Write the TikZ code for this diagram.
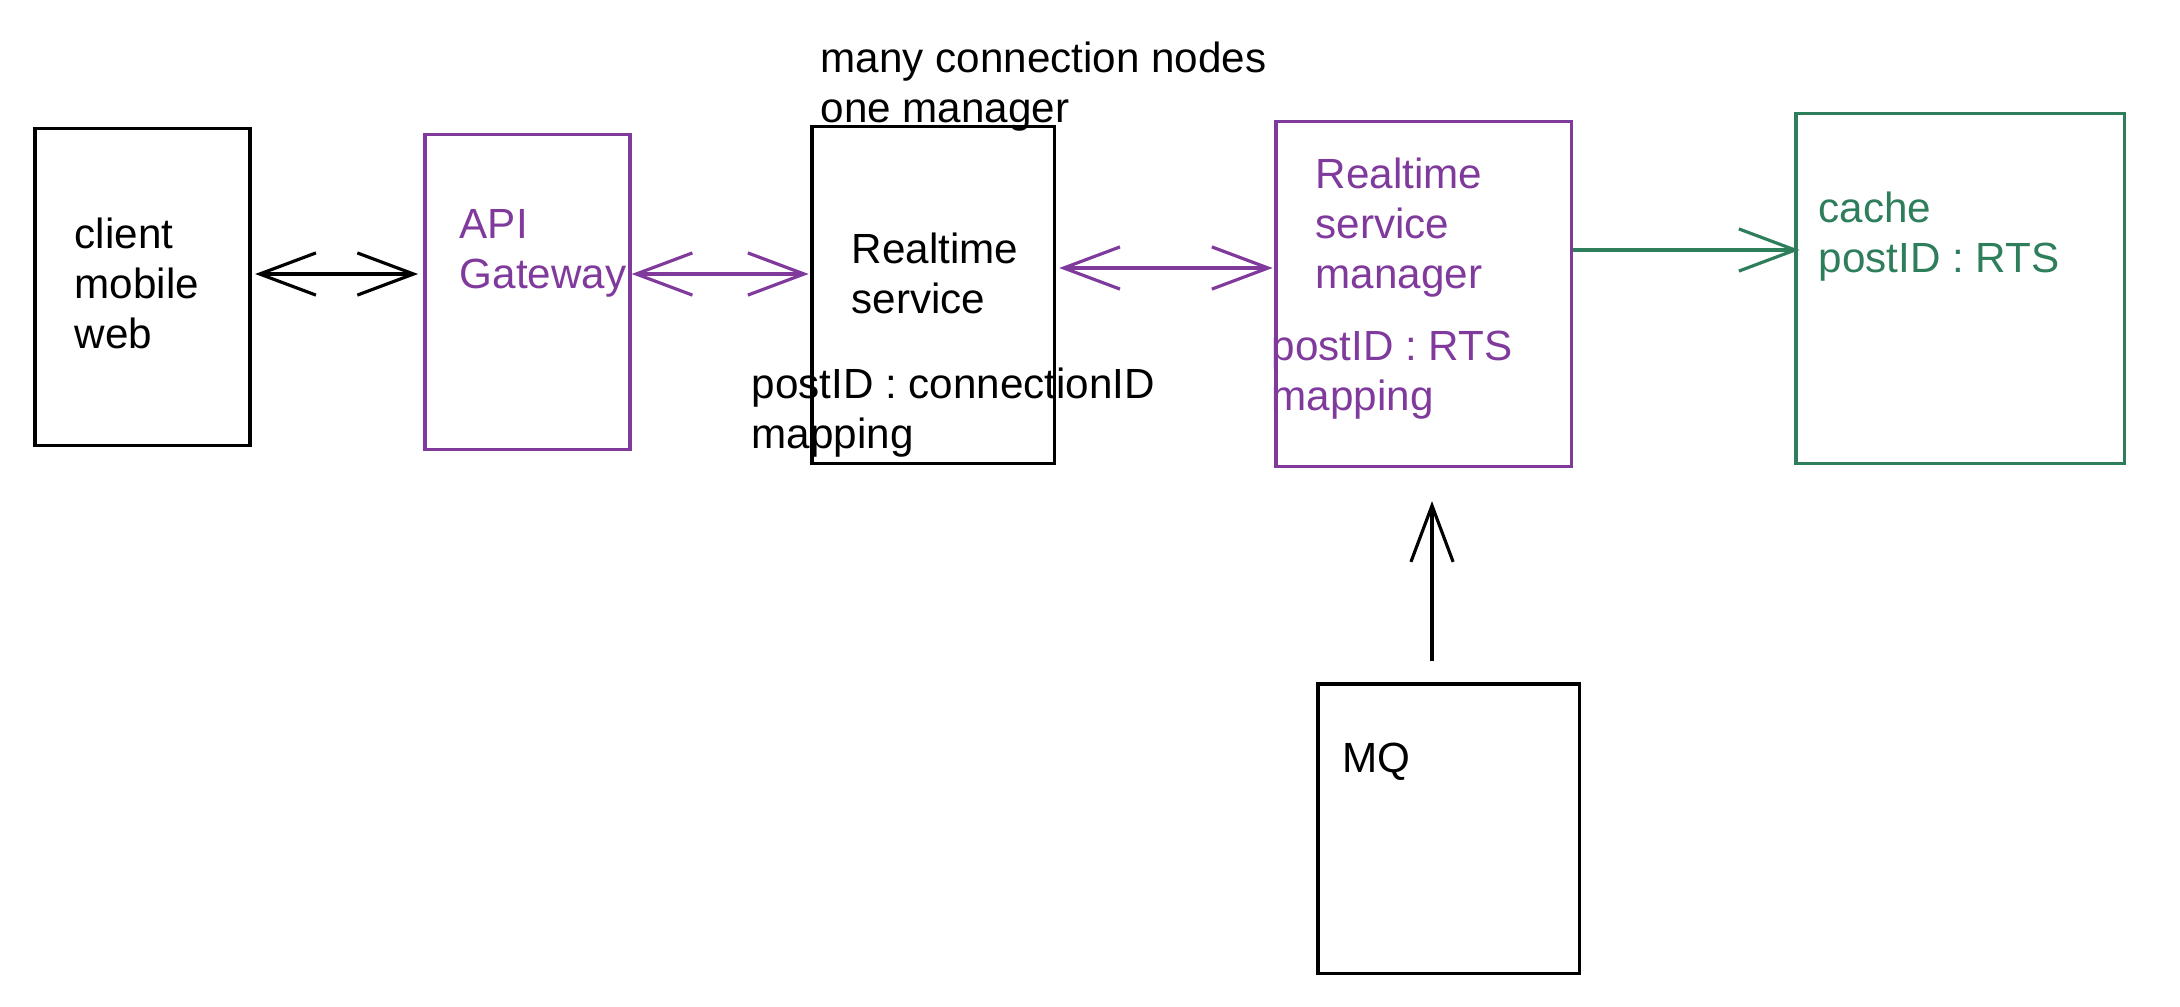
\documentclass[tikz,border=0pt]{standalone}
\usepackage{fontspec}
\setmainfont{Liberation Sans}
\usetikzlibrary{arrows.meta}
\definecolor{grape}{HTML}{7F3A9C}
\definecolor{mygreen}{HTML}{2E7D5B}
\begin{document}
\begin{tikzpicture}[x=0.01cm,y=-0.01cm,
  box/.style={draw,rectangle,inner sep=0pt,line width=0.9pt},
  lbl/.style={anchor=base west,align=left,inner sep=0pt,font=\fontsize{12}{14.2}\selectfont},
  conn/.style={line width=0.9pt},
  >={Straight Barb[length=16pt,width=12pt]}]
\useasboundingbox (0,0) rectangle (2180,1006);
% boxes
\node[box,minimum width=2.15cm,minimum height=3.16cm] (client) at (142.5,287) {};
\node[box,grape,minimum width=2.05cm,minimum height=3.14cm] (api) at (527.5,292) {};
\node[box,minimum width=2.42cm,minimum height=3.36cm] (rts) at (933,295) {};
\node[box,grape,minimum width=2.95cm,minimum height=3.44cm] (rsm) at (1423.5,294) {};
\node[box,mygreen,minimum width=3.28cm,minimum height=3.49cm] (cache) at (1960,288.5) {};
\node[box,minimum width=2.61cm,minimum height=2.89cm] (mq) at (1448.5,828.5) {};
% texts (anchor = baseline of the last line)
\node[lbl] (tclient) at (74,348) {client\\mobile\\web};
\node[lbl,grape] (tapi) at (459,288) {API\\Gateway};
\node[lbl] (trts) at (851,313) {Realtime\\service};
\node[lbl] (tmap) at (751,448) {postID : connectionID\\mapping};
\node[lbl] (tnote) at (820,122) {many connection nodes\\one manager};
\node[lbl,grape] (trsm) at (1315,288) {Realtime\\service\\manager};
\node[lbl,grape] (trsmmap) at (1271,410) {postID : RTS\\mapping};
\node[lbl,mygreen] (tcache) at (1818,272) {cache\\postID : RTS};
\node[lbl] (tmq) at (1342,772) {MQ};
% connectors
\draw[conn,<->,shorten <=1pt,shorten >=1.5pt] (client.east |- 0,274) -- (api.west |- 0,274);
\draw[conn,grape,<->,shorten >=0.5pt] (api.east |- 0,274) -- (rts.west |- 0,274);
\draw[conn,grape,<->,shorten <=1pt,shorten >=0.5pt] (rts.east |- 0,268) -- (rsm.west |- 0,268);
\draw[conn,mygreen,->,shorten >=-1.5pt] (rsm.east |- 0,250) -- (cache.west |- 0,250);
\draw[conn,->,shorten <=6pt,shorten >=9.5pt] (mq.north -| 1432,0) -- (rsm.south -| 1432,0);
\end{tikzpicture}
\end{document}
